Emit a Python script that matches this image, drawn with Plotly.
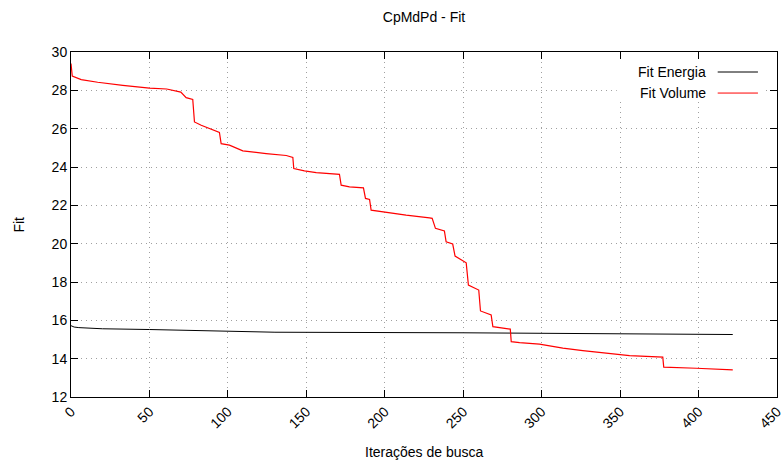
import plotly.graph_objects as go

# Search iterations and fit values
volume_iter = [0, 0.8, 6.5, 17, 33, 50, 61, 70, 73.4, 77.6, 78.7, 83, 94.6, 95.7,
               101, 109.5, 124.4, 137.2, 141.4, 142, 148.8, 156.3, 171.1, 172.2,
               177.5, 186.4, 187.7, 190.3, 191.3, 198.7, 213.6, 228.5, 230.2, 232.3,
               238, 239.1, 243.3, 244.8, 251.9, 253.3, 259.9, 261, 267.8, 268.9,
               280, 280.6, 285.9, 298.6, 313.5, 326.2, 343.2, 356, 377.2, 377.8,
               398.5, 421.8]
volume_fit = [29.4, 28.74, 28.56, 28.42, 28.26, 28.12, 28.07, 27.91, 27.62, 27.52,
              26.35, 26.18, 25.8, 25.22, 25.14, 24.84, 24.7, 24.6, 24.5, 23.92,
              23.8, 23.71, 23.62, 23.05, 22.96, 22.91, 22.36, 22.31, 21.75, 21.66,
              21.49, 21.35, 21.32, 20.8, 20.66, 20.1, 19.98, 19.35, 19.0, 17.84,
              17.58, 16.49, 16.28, 15.67, 15.54, 14.89, 14.84, 14.76, 14.55, 14.42,
              14.29, 14.16, 14.08, 13.56, 13.5, 13.42]

energy_iter = [0, 2, 5, 20, 50, 98, 130, 250, 300, 421.8]
energy_fit = [15.72, 15.65, 15.62, 15.56, 15.52, 15.42, 15.38, 15.35, 15.32, 15.26]

x_ticks = list(range(0, 451, 50))
y_ticks = list(range(12, 31, 2))

FONT = "Liberation Sans, Arial, sans-serif"

fig = go.Figure()

fig.add_trace(go.Scatter(x=energy_iter, y=energy_fit, mode="lines",
                         name="Fit Energia", line=dict(color="black", width=1)))
fig.add_trace(go.Scatter(x=volume_iter, y=volume_fit, mode="lines",
                         name="Fit Volume", line=dict(color="#ff0000", width=1.2)))

axis_common = dict(
    showline=True, linecolor="black", linewidth=1, mirror="allticks",
    ticks="inside", ticklen=7, tickcolor="black", automargin=False,
    showgrid=True, gridcolor="#a0a0a0", griddash="1px,4px", gridwidth=1,
    zeroline=False, ticklabeloverflow="allow",
    tickfont=dict(family=FONT, size=14, color="black"),
)

fig.update_xaxes(range=[0, 450], tickvals=x_ticks, tickangle=-45, **axis_common)
fig.update_yaxes(range=[12, 30], tickvals=y_ticks, **axis_common)

# axis titles placed like gnuplot's labels
fig.add_annotation(text="Iterações de busca", xref="paper", yref="paper",
                   x=0.5, y=-0.159, xanchor="center", yanchor="middle",
                   showarrow=False, font=dict(family=FONT, size=14, color="black"))
fig.add_annotation(text="Fit", xref="paper", yref="paper", x=-0.075, y=0.5,
                   textangle=-90, xanchor="center", yanchor="middle",
                   showarrow=False, font=dict(family=FONT, size=14, color="black"))

# gnuplot style key: white box, label on the left, line sample on the right
fig.add_shape(type="rect", xref="paper", yref="paper", x0=0.773, x1=0.984,
              y0=0.857, y1=0.974, fillcolor="white", line=dict(width=0),
              layer="above")
for label, color, ypos in [("Fit Energia", "black", 0.942),
                           ("Fit Volume", "#ff0000", 0.881)]:
    fig.add_annotation(text=label, xref="paper", yref="paper", x=0.902, y=ypos,
                       xanchor="right", yanchor="middle", showarrow=False,
                       font=dict(family=FONT, size=14, color="black"))
    fig.add_shape(type="line", xref="paper", yref="paper", x0=0.916, x1=0.973,
                  y0=ypos, y1=ypos, line=dict(color=color, width=1), layer="above")

fig.update_layout(
    width=783, height=465,
    title=dict(text="CpMdPd - Fit", x=0.5, xref="paper", y=1 - 17 / 465,
               yanchor="middle", font=dict(family=FONT, size=14, color="black")),
    margin=dict(l=71, r=6, t=52, b=68),
    plot_bgcolor="white", paper_bgcolor="white",
    showlegend=False,
    font=dict(family=FONT, size=14, color="black"),
)

# drop the browser's default page margin so the figure sits at the corner
fig.write_html("out.html", config={"displayModeBar": False},
               post_script="document.body.style.margin='0';"
                           "document.body.style.overflow='hidden';")
